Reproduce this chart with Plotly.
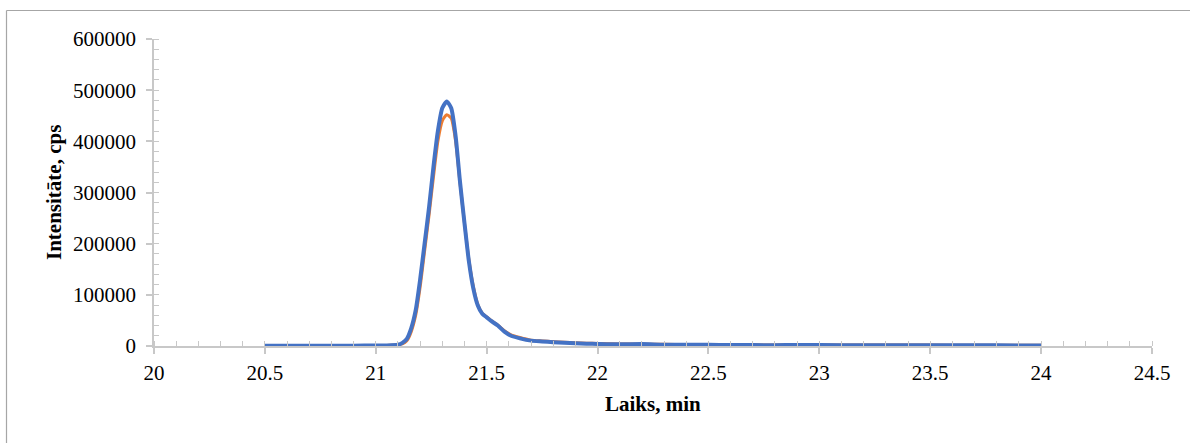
import plotly.graph_objects as go

# Retention time (min)
time_min = [20.5, 20.6, 20.7, 20.8, 20.9, 21.0, 21.05, 21.1, 21.12, 21.14, 21.16, 21.18,
            21.20, 21.22, 21.24, 21.26, 21.28, 21.30, 21.32, 21.34, 21.36, 21.38, 21.40,
            21.42, 21.44, 21.46, 21.48, 21.50, 21.52, 21.55, 21.58, 21.61, 21.65, 21.70,
            21.75, 21.80, 21.85, 21.90, 21.95, 22.0, 22.1, 22.2, 22.3, 22.4, 22.5, 22.6,
            22.7, 22.8, 22.9, 23.0, 23.2, 23.4, 23.6, 23.8, 24.0]

# Series 1 (orange)
intensity_orange = [900, 900, 900, 900, 900, 1000, 1200, 2500, 4000, 10000, 28000, 60000,
                    115000, 185000, 255000, 330000, 400000, 440000, 452000, 445000, 400000, 318000, 240000,
                    168000, 116000, 81000, 64000, 57000, 50000, 41000, 30000, 22000, 16500, 11500,
                    10000, 8500, 7500, 6500, 5500, 5000, 4000, 3500, 3300, 3000, 2700, 2400,
                    2200, 2000, 2100, 2000, 1900, 1800, 1700, 1600, 1500]

# Series 2 (blue)
intensity_blue = [700, 700, 700, 700, 700, 800, 1000, 2500, 6000, 14000, 35000, 70000,
                  130000, 200000, 270000, 350000, 420000, 465000, 478000, 465000, 410000, 320000, 240000,
                  165000, 112000, 79000, 63000, 56000, 49000, 40000, 28000, 20000, 15000, 10500,
                  9000, 7500, 6500, 5500, 4500, 4000, 3200, 3800, 2500, 2300, 2200, 2000,
                  1800, 1600, 2000, 1800, 1600, 1500, 1400, 1300, 1000]

x_ticks = [20, 20.5, 21, 21.5, 22, 22.5, 23, 23.5, 24, 24.5]
y_ticks = [0, 100000, 200000, 300000, 400000, 500000, 600000]

W, H = 1190, 443
L, R, T, B = 154, 38, 39, 97
pw, ph = W - L - R, H - T - B

FONT = "Liberation Serif, Times New Roman, serif"

fig = go.Figure()
fig.add_trace(go.Scatter(x=time_min, y=intensity_orange, mode="lines",
                         line=dict(color="#ED7D31", width=3, shape="spline", smoothing=0.6),
                         showlegend=False, hoverinfo="x+y"))
fig.add_trace(go.Scatter(x=time_min, y=intensity_blue, mode="lines",
                         line=dict(color="#4472C4", width=4, shape="spline", smoothing=0.6),
                         showlegend=False, hoverinfo="x+y"))

axis_common = dict(showgrid=False, zeroline=False, showline=True, linecolor="#c8c8c8", linewidth=1.5,
                   ticks="outside", tickcolor="#c8c8c8", ticklen=6, tickwidth=1.5,
                   tickfont=dict(family=FONT, size=21, color="#000000"))

fig.update_xaxes(range=[20, 24.5], tickvals=x_ticks, ticktext=[str(v) for v in x_ticks],
                 minor=dict(dtick=0.1, ticks="inside", ticklen=5, tickcolor="#c8c8c8", tickwidth=1),
                 ticklabelstandoff=1, **axis_common)
fig.update_yaxes(range=[0, 600000], tickvals=y_ticks, ticktext=[str(v) for v in y_ticks],
                 minor=dict(dtick=20000, ticks="inside", ticklen=5, tickcolor="#c8c8c8", tickwidth=1),
                 ticklabelstandoff=6, **axis_common)

def px_x(p):
    return (p - L) / pw

def px_y(p):
    return (H - B - p) / ph

fig.update_layout(
    width=W, height=H,
    margin=dict(l=L, r=R, t=T, b=B),
    paper_bgcolor="white", plot_bgcolor="white",
    shapes=[
        dict(type="line", xref="paper", yref="paper", x0=px_x(6.5), x1=px_x(1200), y0=px_y(10.5), y1=px_y(10.5),
             line=dict(color="#a6a6a6", width=1.2)),
        dict(type="line", xref="paper", yref="paper", x0=px_x(6.5), x1=px_x(6.5), y0=px_y(10.5), y1=px_y(460),
             line=dict(color="#a6a6a6", width=1.2)),
    ],
    annotations=[
        dict(text="<b>Intensitāte, cps</b>", xref="paper", yref="paper", x=px_x(54), y=px_y(193),
             textangle=-90, showarrow=False, xanchor="center", yanchor="middle",
             font=dict(family=FONT, size=21, color="#000000")),
        dict(text="<b>Laiks, min</b>", xref="paper", yref="paper", x=px_x(653), y=px_y(404),
             showarrow=False, xanchor="center", yanchor="middle",
             font=dict(family=FONT, size=21, color="#000000")),
    ],
)

fig.write_html("out.html")
